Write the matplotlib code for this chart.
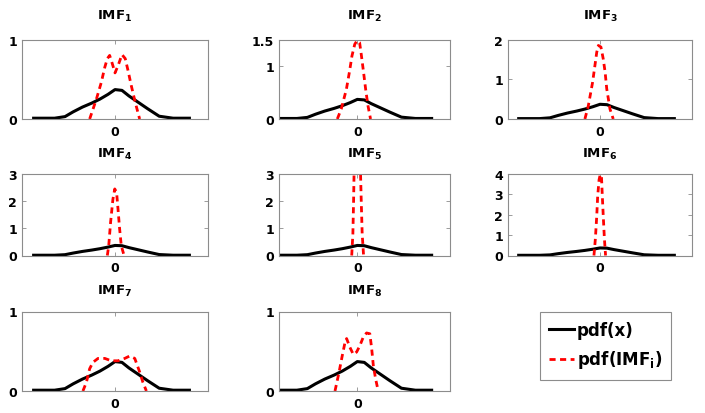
import matplotlib
matplotlib.use("Agg")
import matplotlib.pyplot as plt

plt.rcParams['font.family'] = ['DejaVu Sans']
plt.rcParams['font.weight'] = 'bold'
plt.rcParams['mathtext.default'] = 'bf'

# pdf of the signal x (same curve in every panel)
pdf_x_x = [-3.5, -2.6, -2.15, -1.8, -1.4, -1.0, -0.65, -0.3, 0.0, 0.3, 0.6, 1.0, 1.4, 1.9, 2.5, 3.2]
pdf_x_y = [0.01, 0.01, 0.03, 0.09, 0.15, 0.2, 0.25, 0.31, 0.37, 0.36, 0.29, 0.21, 0.13, 0.035, 0.01, 0.01]

# pdf of each IMF
imf1_x = [-1.09, -0.8, -0.59, -0.44, -0.33, -0.23, -0.11, 0.0, 0.13, 0.3, 0.44, 0.56, 0.7, 0.87, 1.06]
imf1_y = [0.0, 0.25, 0.46, 0.65, 0.76, 0.8, 0.69, 0.58, 0.67, 0.81, 0.76, 0.61, 0.42, 0.21, 0.0]
imf2_x = [-0.86, -0.69, -0.47, -0.33, -0.23, -0.11, -0.01, 0.1, 0.17, 0.27, 0.36, 0.46, 0.57]
imf2_y = [0.0, 0.19, 0.56, 0.91, 1.19, 1.41, 1.48, 1.44, 1.22, 0.88, 0.56, 0.25, 0.0]
imf3_x = [-0.65, -0.5, -0.32, -0.22, -0.14, -0.07, 0.04, 0.14, 0.22, 0.29, 0.43, 0.57]
imf3_y = [0.0, 0.34, 0.92, 1.34, 1.68, 1.85, 1.81, 1.51, 1.18, 0.76, 0.25, 0.0]
imf4_x = [-0.33, -0.27, -0.19, -0.09, -0.01, 0.07, 0.13, 0.2, 0.27, 0.39]
imf4_y = [0.0, 0.36, 1.22, 2.07, 2.45, 2.31, 1.7, 0.97, 0.36, 0.0]
imf5_x = [-0.24, -0.19, -0.16, -0.14, -0.1, 0.0, 0.1, 0.14, 0.17, 0.21, 0.27]
imf5_y = [0.0, 0.8, 2.0, 3.0, 3.8, 4.2, 3.8, 3.0, 2.0, 0.8, 0.0]
imf6_x = [-0.26, -0.2, -0.14, -0.1, -0.04, 0.0, 0.06, 0.1, 0.14, 0.19, 0.24]
imf6_y = [0.0, 0.81, 1.94, 2.91, 3.72, 3.92, 3.97, 2.91, 1.94, 0.81, 0.0]
imf7_x = [-1.38, -1.23, -1.09, -0.95, -0.73, -0.44, -0.16, 0.13, 0.42, 0.63, 0.85, 1.06, 1.2, 1.35]
imf7_y = [0.0, 0.11, 0.28, 0.36, 0.41, 0.41, 0.38, 0.38, 0.41, 0.44, 0.41, 0.24, 0.11, 0.0]
imf8_x = [-0.96, -0.79, -0.65, -0.53, -0.46, -0.32, -0.17, -0.03, 0.11, 0.26, 0.4, 0.54, 0.62, 0.69, 0.79, 0.9]
imf8_y = [0.0, 0.23, 0.44, 0.61, 0.66, 0.55, 0.46, 0.49, 0.57, 0.68, 0.73, 0.72, 0.53, 0.32, 0.15, 0.0]

imf_x = [imf1_x, imf2_x, imf3_x, imf4_x, imf5_x, imf6_x, imf7_x, imf8_x]
imf_y = [imf1_y, imf2_y, imf3_y, imf4_y, imf5_y, imf6_y, imf7_y, imf8_y]
titles = ['IMF$_1$', 'IMF$_2$', 'IMF$_3$', 'IMF$_4$', 'IMF$_5$', 'IMF$_6$', 'IMF$_7$', 'IMF$_8$']
ytop = [1, 1.5, 2, 3, 3, 4, 1, 1]
yticks = [[0, 1], [0, 1, 1.5], [0, 1, 2], [0, 1, 2, 3], [0, 1, 2, 3], [0, 1, 2, 3, 4], [0, 1], [0, 1]]
ytick_labels = [['0', '1'], ['0', '1', '1.5'], ['0', '1', '2'], ['0', '1', '2', '3'],
                ['0', '1', '2', '3'], ['0', '1', '2', '3', '4'], ['0', '1'], ['0', '1']]

W, H = 705, 414
fig = plt.figure(figsize=(W / 100, H / 100), dpi=100)

# pixel boxes of the columns / rows
cols = [(22, 208), (279, 450), (508, 692)]
rows = [(40.5, 120), (175, 256.5), (312.5, 392)]
xlims = [(-4, 4), (-3.37, 3.99), (-3.96, 3.96)]
title_pad = [15, 12.5, 13]
frame = '#8c8c8c'

for i in range(8):
    r = i // 3
    c = i % 3
    x0, x1 = cols[c]
    y0, y1 = rows[r]
    ax = fig.add_axes([x0 / W, 1 - y1 / H, (x1 - x0) / W, (y1 - y0) / H])
    l1, = ax.plot(pdf_x_x, pdf_x_y, color='black', lw=2.2)
    l2, = ax.plot(imf_x[i], imf_y[i], color='red', lw=2.0, dashes=(2.2, 1.6))
    ax.set_xlim(xlims[c])
    ax.set_ylim(0, ytop[i])
    ax.set_xticks([0])
    ax.set_xticklabels(['0'])
    ax.set_yticks(yticks[i])
    ax.set_yticklabels(ytick_labels[i])
    ax.tick_params(direction='in', length=3, width=0.6, color=frame, labelsize=9,
                   top=True, right=True)
    ax.tick_params(axis='x', pad=4)
    ax.tick_params(axis='y', pad=3.5)
    for s in ax.spines.values():
        s.set_color(frame)
        s.set_linewidth(0.8)
    ax.set_title(titles[i], fontsize=9.5, fontweight='bold', pad=title_pad[r])

leg = fig.legend([l1, l2], ['pdf(x)', 'pdf(IMF$_i$)'], loc='upper left',
                 bbox_to_anchor=(540 / W, 1 - 313 / H), borderaxespad=0,
                 fancybox=False, edgecolor=frame, framealpha=1,
                 prop={'size': 12, 'weight': 'bold'}, handlelength=1.5,
                 handletextpad=0.15, labelspacing=0.55, borderpad=0.55)
leg.get_frame().set_linewidth(0.8)

fig.savefig('out.png', dpi=100)
